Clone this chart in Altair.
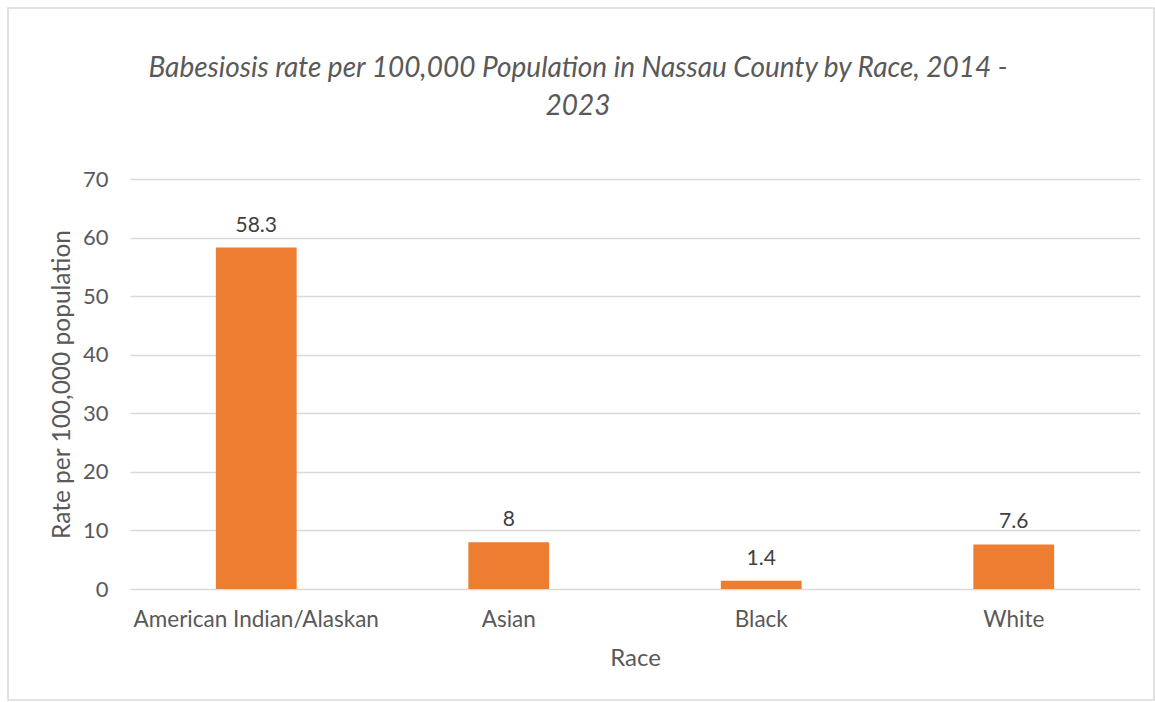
import altair as alt
import pandas as pd

races = ["American Indian/Alaskan", "Asian", "Black", "White"]
rates = [58.3, 8, 1.4, 7.6]
labels = ["58.3", "8", "1.4", "7.6"]
title_lines = ["Babesiosis rate per 100,000 Population in Nassau County by Race, 2014 -", "2023"]

df = pd.DataFrame({"Race": races, "Rate": rates, "Label": labels})

FONT = "Lato"
W, H = 1010, 410
GREY = "#595959"

x = alt.X("Race:N", sort=races, title="Race",
          scale=alt.Scale(paddingInner=0.68, paddingOuter=0.34),
          axis=alt.Axis(labelAngle=0, labelFontSize=22.5, labelColor=GREY,
                        labelPadding=19, labelLimit=0, titleFontSize=24,
                        titleColor=GREY, titleFontWeight="normal", titlePadding=16,
                        domain=False, ticks=False, labelFont=FONT, titleFont=FONT))
y = alt.Y("Rate:Q", title="Rate per 100,000 population",
          scale=alt.Scale(domain=[0, 70]),
          axis=alt.Axis(values=[0, 10, 20, 30, 40, 50, 60, 70], labelFontSize=22,
                        labelColor=GREY, labelPadding=22, titleFontSize=24.5,
                        titleColor=GREY, titleFontWeight="normal",
                        titlePadding=8, domain=False, ticks=False,
                        gridColor="#d9d9d9", gridWidth=1.3,
                        labelFont=FONT, titleFont=FONT))

bars = alt.Chart(df).mark_bar(color="#ED7D31").encode(x=x, y=y)
text = alt.Chart(df).mark_text(baseline="bottom", dy=-12, fontSize=21,
                               color="#404040", font=FONT).encode(
    x=alt.X("Race:N", sort=races), y="Rate:Q", text="Label:N")

one = pd.DataFrame({"a": [0]})
border = alt.Chart(one).mark_rect(
    fill=None, stroke="#d9d9d9", strokeWidth=1.5).encode(
    x=alt.value(-122), x2=alt.value(1024), y=alt.value(-171), y2=alt.value(521))

t1 = alt.Chart(one).mark_text(
    text=title_lines[0], fontSize=28, fontStyle="italic", color=GREY, font=FONT,
    align="center", baseline="alphabetic").encode(x=alt.value(448), y=alt.value(-102))
t2 = alt.Chart(one).mark_text(
    text=title_lines[1], fontSize=28, fontStyle="italic", color=GREY, font=FONT,
    align="center", baseline="alphabetic").encode(x=alt.value(448), y=alt.value(-64))

chart = alt.layer(border, bars, text, t1, t2).properties(
    width=W, height=H,
    background="white",
    autosize=alt.AutoSizeParams(type="none"),
    padding={"left": 130, "top": 179, "right": 15, "bottom": 113},
).configure_view(stroke="transparent", strokeWidth=0)

chart.save("out.html", embed_options={"renderer": "svg", "actions": False})
